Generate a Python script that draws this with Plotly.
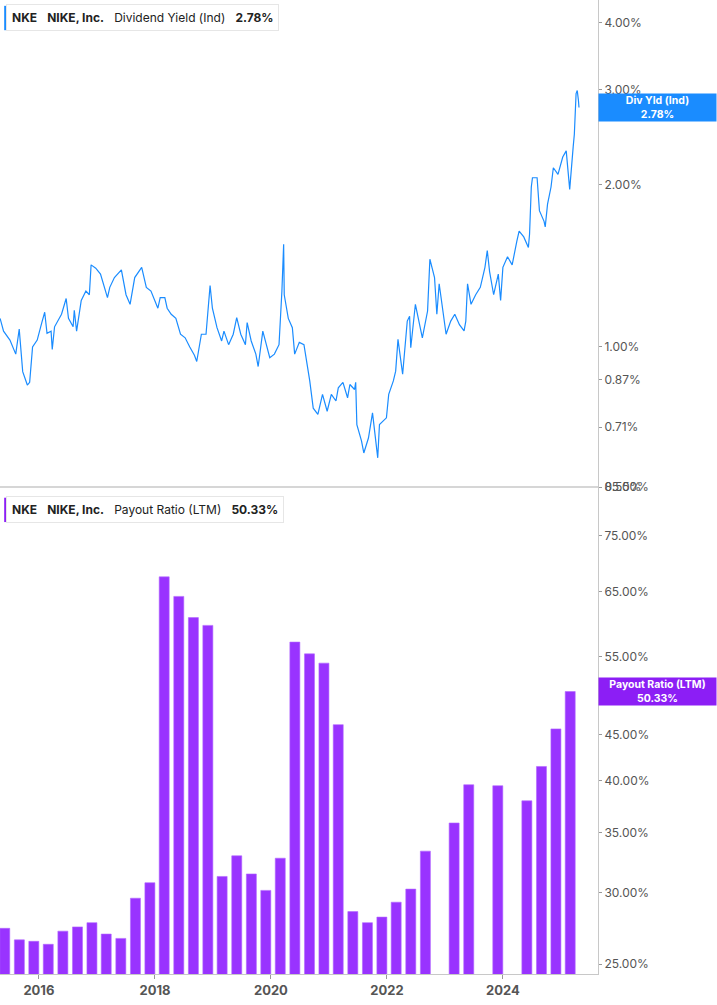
import numpy as np
import pandas as pd
import plotly.graph_objects as go
from plotly.subplots import make_subplots

# ── Data ─────────────────────────────────────────────────────────────────────
# dividend yield (%), x as fractional year
yield_years = [
    2015.33, 2015.39, 2015.50, 2015.60, 2015.66, 2015.72, 2015.80, 2015.84, 2015.89, 2015.97,
    2016.05, 2016.10, 2016.14, 2016.21, 2016.23, 2016.27, 2016.39, 2016.47, 2016.51, 2016.59,
    2016.61, 2016.65, 2016.73, 2016.81, 2016.87, 2016.90, 2016.98, 2017.06, 2017.18, 2017.22,
    2017.30, 2017.42, 2017.50, 2017.57, 2017.65, 2017.77, 2017.85, 2017.93, 2018.05, 2018.09,
    2018.17, 2018.21, 2018.28, 2018.36, 2018.44, 2018.52, 2018.60, 2018.68, 2018.72, 2018.80,
    2018.88, 2018.92, 2018.95, 2018.99, 2019.07, 2019.15, 2019.19, 2019.27, 2019.35, 2019.41,
    2019.48, 2019.56, 2019.59, 2019.66, 2019.74, 2019.78, 2019.86, 2019.98, 2020.06, 2020.14,
    2020.16, 2020.19, 2020.22, 2020.23, 2020.30, 2020.37, 2020.41, 2020.49, 2020.57, 2020.61,
    2020.67, 2020.73, 2020.81, 2020.89, 2020.97, 2021.04, 2021.12, 2021.16, 2021.24, 2021.32,
    2021.36, 2021.44, 2021.46, 2021.48, 2021.56, 2021.60, 2021.68, 2021.75, 2021.82, 2021.84,
    2021.87, 2021.99, 2022.03, 2022.11, 2022.15, 2022.19, 2022.27, 2022.35, 2022.39, 2022.41,
    2022.49, 2022.57, 2022.61, 2022.70, 2022.74, 2022.82, 2022.86, 2022.90, 2022.98, 2023.02,
    2023.10, 2023.17, 2023.25, 2023.33, 2023.36, 2023.39, 2023.45, 2023.53, 2023.61, 2023.69,
    2023.73, 2023.77, 2023.84, 2023.92, 2023.96, 2024.00, 2024.08, 2024.16, 2024.24, 2024.28,
    2024.36, 2024.44, 2024.46, 2024.49, 2024.51, 2024.59, 2024.63, 2024.71, 2024.73, 2024.77,
    2024.83, 2024.87, 2024.95, 2025.03, 2025.09, 2025.13, 2025.15, 2025.21, 2025.23, 2025.26,
    2025.28, 2025.30, 2025.31,
]
yield_vals = [
    1.13, 1.07, 1.03, 0.97, 1.08, 0.90, 0.85, 0.86, 1.00, 1.03,
    1.11, 1.16, 1.06, 1.07, 0.99, 1.09, 1.15, 1.23, 1.13, 1.09,
    1.17, 1.07, 1.22, 1.27, 1.25, 1.42, 1.40, 1.365, 1.235, 1.29,
    1.345, 1.39, 1.25, 1.20, 1.345, 1.405, 1.29, 1.27, 1.18, 1.235,
    1.235, 1.18, 1.15, 1.13, 1.056, 1.04, 1.00, 0.965, 0.94, 1.056,
    1.056, 1.18, 1.30, 1.18, 1.086, 1.026, 1.07, 1.01, 1.056, 1.134,
    1.056, 1.01, 1.11, 1.026, 0.97, 0.92, 1.07, 0.955, 0.97, 1.01,
    1.09, 1.27, 1.55, 1.25, 1.13, 1.086, 0.97, 1.02, 1.01, 0.955,
    0.865, 0.77, 0.75, 0.817, 0.76, 0.817, 0.794, 0.84, 0.86, 0.805,
    0.852, 0.834, 0.86, 0.718, 0.67, 0.636, 0.678, 0.755, 0.65, 0.623,
    0.718, 0.739, 0.817, 0.865, 0.902, 1.033, 0.89, 1.117, 1.14, 0.997,
    1.20, 1.086, 1.04, 1.166, 1.455, 1.345, 1.15, 1.31, 1.15, 1.056,
    1.117, 1.15, 1.10, 1.071, 1.117, 1.31, 1.20, 1.25, 1.29, 1.405,
    1.51, 1.38, 1.25, 1.365, 1.22, 1.405, 1.47, 1.42, 1.57, 1.64,
    1.60, 1.53, 1.62, 1.98, 2.06, 2.06, 1.79, 1.71, 1.67, 1.84,
    1.98, 2.15, 2.09, 2.25, 2.31, 2.04, 1.96, 2.35, 2.48, 2.95,
    2.99, 2.87, 2.78,
]

# payout ratio (LTM, %) per fiscal quarter end, None = no value
quarter_start = "2015-05-31"
payout_vals = [
    27.4, 26.6, 26.5, 26.3, 27.2, 27.5, 27.8, 27.0, 26.7, 29.6,
    30.8, 67.5, 64.2, 60.8, 59.6, 31.3, 33.0, 31.5, 30.2, 32.8,
    57.1, 55.4, 54.1, 46.2, 28.6, 27.8, 28.2, 29.3, 30.3, 33.4,
    None, 35.9, 39.6, None, 39.5, None, 38.0, 41.5, 45.7, 50.3,
]

yield_ticks = [0.55, 0.71, 0.87, 1.00, 2.00, 3.00, 4.00]
payout_ticks = [25, 30, 35, 40, 45, 55, 65, 75, 85]
year_ticks = [2016, 2018, 2020, 2022, 2024]

last_yield = 2.78
last_payout = 50.33

BLUE = "#1a8cff"
PURPLE = "#9933ff"
PURPLE_TAG = "#8c1ef5"
AXIS = "#c8c8c8"
TICKTXT = "#555555"


def frac_to_date(y):
    yr = int(np.floor(y))
    return pd.Timestamp(f"{yr}-01-01") + pd.Timedelta(days=(y - yr) * 365.25)


yield_dates = [frac_to_date(y) for y in yield_years]
quarter_dates = pd.date_range(quarter_start, periods=len(payout_vals), freq="3ME")

# ── Figure ───────────────────────────────────────────────────────────────────
fig = make_subplots(rows=2, cols=1, shared_xaxes=True, vertical_spacing=0)

fig.add_trace(go.Scatter(
    x=yield_dates, y=yield_vals, mode="lines",
    line=dict(color=BLUE, width=1.2), showlegend=False,
), row=1, col=1)

fig.add_trace(go.Bar(
    x=quarter_dates, y=payout_vals,
    marker=dict(color=PURPLE, line=dict(color="#b266ff", width=0.6)),
    showlegend=False,
), row=2, col=1)

axis_common = dict(
    type="log", side="right", showgrid=False, zeroline=False,
    showline=True, linecolor=AXIS, linewidth=1, mirror=False,
    ticks="outside", ticklen=3, tickcolor="#999999",
    tickfont=dict(family="Inter, Roboto, sans-serif", size=12, color=TICKTXT),
)
fig.update_yaxes(
    **axis_common, row=1, col=1,
    range=[np.log10(0.55), np.log10(4.4)],
    tickvals=yield_ticks, ticktext=[f"{v:.2f}%" for v in yield_ticks],
)
fig.update_yaxes(
    **axis_common, row=2, col=1,
    range=[np.log10(24.37), np.log10(85)],
    tickvals=payout_ticks, ticktext=[f"{v:.2f}%" for v in payout_ticks],
)
fig.update_xaxes(
    range=["2015-05-01", "2025-08-22"], showgrid=False, zeroline=False,
)
fig.update_xaxes(
    row=2, col=1, showline=True, linecolor=AXIS, linewidth=1,
    ticks="outside", ticklen=4, tickcolor="#999999",
    tickvals=[pd.Timestamp(f"{y}-01-01") for y in year_ticks],
    ticktext=[f"<b>{y}</b>" for y in year_ticks],
    tickfont=dict(family="Inter, Roboto, sans-serif", size=13, color=TICKTXT),
)

fig.update_layout(
    width=717, height=1005,
    margin=dict(t=0, b=31, l=0, r=119, autoexpand=False),
    paper_bgcolor="white", plot_bgcolor="white",
    bargap=0.3,
    font=dict(family="Inter, Roboto, sans-serif"),
)

# panel separator
fig.add_shape(type="line", xref="paper", yref="paper", x0=0, x1=1, y0=0.5, y1=0.5,
              line=dict(color="#d6d6d6", width=2))

# ── Header boxes ─────────────────────────────────────────────────────────────
def header(ytop, color, label, value):
    fig.add_annotation(
        xref="paper", yref="paper", x=0.01, y=ytop, xanchor="left", yanchor="top",
        text=f"<b>NKE</b>   <b>NIKE, Inc.</b>   {label}   <b>{value}</b>",
        showarrow=False, align="left",
        font=dict(size=12, color="#222222"),
        bgcolor="white", bordercolor="#e6e6e6", borderwidth=1, borderpad=5,
    )
    fig.add_shape(type="rect", xref="paper", yref="paper",
                  x0=0.007, x1=0.012, y0=ytop - 0.027, y1=ytop - 0.002,
                  fillcolor=color, line=dict(width=0))


header(0.996, BLUE, "Dividend Yield (Ind)", f"{last_yield:.2f}%")
header(0.491, PURPLE_TAG, "Payout Ratio (LTM)", f"{last_payout:.2f}%")

# ── Last-value tags on the right axis ────────────────────────────────────────
fig.add_annotation(
    xref="paper", yref="y", x=1.0995, y=np.log10(last_yield), xanchor="center",
    text=f"<b>Div Yld (Ind)<br>{last_yield:.2f}%</b>", showarrow=False,
    font=dict(size=10.5, color="white"), bgcolor=BLUE, width=115, height=25,
)
fig.add_annotation(
    xref="paper", yref="y2", x=1.0995, y=np.log10(last_payout), xanchor="center",
    text=f"<b>Payout Ratio (LTM)<br>{last_payout:.2f}%</b>", showarrow=False,
    font=dict(size=10.5, color="white"), bgcolor=PURPLE_TAG, width=115, height=25,
)

fig.write_html("out.html", config={"displayModeBar": False},
               post_script="document.body.style.margin='0';")
